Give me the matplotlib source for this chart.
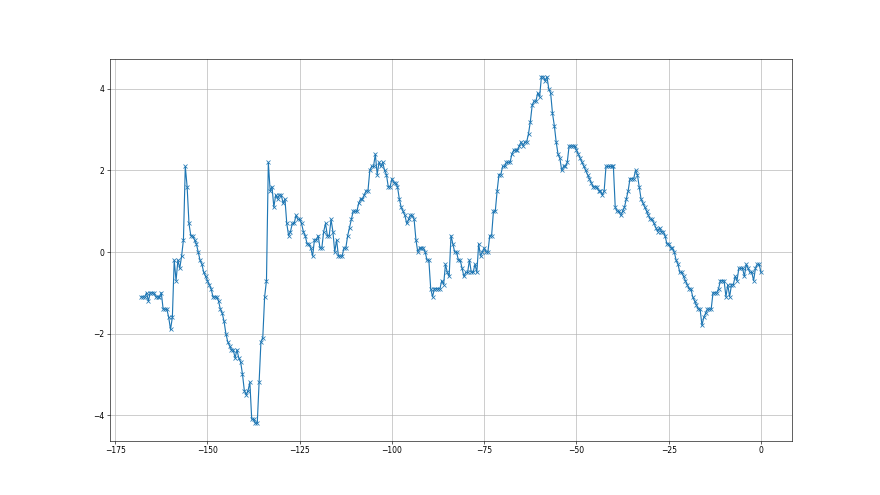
import numpy as np
import matplotlib

matplotlib.use("Agg")
import matplotlib.pyplot as plt

# values, one point every 0.5 on x from -168 to 0
seg_start = [-1.1, -1.1, -1.1, -1.0, -1.2, -1.0, -1.0, -1.0, -1.1, -1.1,
             -1.1, -1.0, -1.4, -1.4, -1.4, -1.6, -1.9, -1.6, -0.2, -0.7,
             -0.2, -0.4, -0.1, 0.3, 2.1]
seg_drop = [1.6, 0.7, 0.4, 0.4, 0.3, 0.2, 0.0, -0.2, -0.3, -0.5,
            -0.6, -0.7, -0.8, -0.9, -1.1, -1.1, -1.1, -1.2, -1.4, -1.5,
            -1.7, -2.0, -2.2, -2.3, -2.4, -2.4, -2.6, -2.4, -2.6, -2.7,
            -3.0, -3.4, -3.5, -3.4, -3.2, -4.1, -4.1, -4.2, -4.2, -3.2,
            -2.2, -2.1, -1.1, -0.7, 2.2]
seg_mid = [1.5, 1.6, 1.1, 1.4, 1.3, 1.4, 1.4, 1.2, 1.3, 0.7,
           0.4, 0.5, 0.7, 0.7, 0.9, 0.8, 0.8, 0.7, 0.5, 0.4,
           0.2, 0.2, 0.1, -0.1, 0.3, 0.3, 0.4, 0.1, 0.1, 0.5,
           0.7, 0.4, 0.4, 0.8, 0.5, 0.0, 0.3, -0.1, -0.1, -0.1,
           0.1, 0.1, 0.4, 0.6, 0.8, 1.0, 1.0, 1.0, 1.2, 1.3,
           1.3, 1.4, 1.5, 1.5, 2.0, 2.1, 2.1, 2.4, 1.9, 2.2,
           2.1, 2.2, 2.0, 1.9, 1.6, 1.6, 1.8, 1.7, 1.7, 1.6,
           1.3, 1.1, 1.0, 0.9, 0.7]
seg_rise = [0.8, 0.9, 0.9, 0.8, 0.3, 0.0, 0.1, 0.1, 0.1, 0.0,
            -0.2, -0.2, -0.9, -1.1, -0.9, -0.9, -0.9, -0.9, -0.7, -0.8,
            -0.3, -0.5, -0.6, 0.4, 0.2, 0.0, 0.0, -0.2, -0.2, -0.4,
            -0.6, -0.5, -0.5, -0.2, -0.5, -0.5, -0.3, -0.5, 0.2, -0.1,
            0.0, 0.1, 0.0, 0.0, 0.4, 0.4, 1.0, 1.0, 1.5, 1.9,
            1.9, 2.1, 2.1, 2.2, 2.2, 2.2, 2.4, 2.5, 2.5, 2.5,
            2.6, 2.7, 2.6, 2.7, 2.7, 2.9, 3.2, 3.6]
seg_peak = [3.7, 3.7, 3.9, 3.8, 4.3, 4.3, 4.2, 4.3, 4.0, 3.9,
            3.4, 3.1, 2.7, 2.4, 2.3, 2.0, 2.1, 2.1, 2.2, 2.6,
            2.6, 2.6, 2.6, 2.5, 2.4, 2.3, 2.2, 2.1, 2.0, 1.9,
            1.8, 1.7, 1.6, 1.6, 1.6, 1.5, 1.5, 1.4, 1.5, 2.1,
            2.1, 2.1, 2.1, 2.1, 1.1, 1.0, 1.0, 0.9, 1.0, 1.1,
            1.3, 1.5, 1.8, 1.8, 1.8, 2.0]
seg_end = [1.9, 1.6, 1.3, 1.2, 1.1, 1.0, 0.9, 0.8, 0.8, 0.7,
           0.6, 0.5, 0.6, 0.5, 0.5, 0.4, 0.2, 0.2, 0.1, 0.1,
           0.0, -0.2, -0.3, -0.5, -0.5, -0.6, -0.7, -0.8, -0.9, -0.9,
           -1.1, -1.2, -1.3, -1.4, -1.4, -1.8, -1.6, -1.5, -1.4, -1.4,
           -1.4, -1.0, -1.0, -1.0, -0.9, -0.7, -0.7, -0.7, -1.1, -0.8,
           -1.1, -0.8, -0.8, -0.6, -0.7, -0.4, -0.4, -0.4, -0.6, -0.3,
           -0.4, -0.5, -0.5, -0.7, -0.4, -0.3, -0.3, -0.5]

values = seg_start + seg_drop + seg_mid + seg_rise + seg_peak + seg_end
x = np.linspace(-168, 0, len(values))

fig, ax = plt.subplots(figsize=(16, 9), dpi=55)
ax.plot(x, values, marker="x")
ax.grid(True)
fig.savefig("out.png", dpi=55)
